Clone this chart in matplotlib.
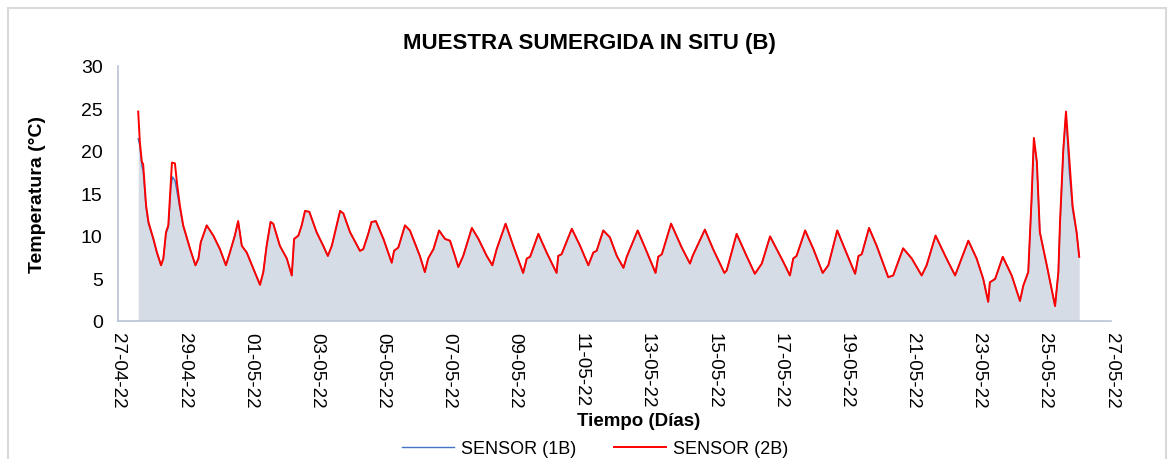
import pandas as pd
import matplotlib.pyplot as plt
import matplotlib.dates as mdates
from matplotlib.patches import Rectangle

plt.rcParams['font.family'] = ['Liberation Sans', 'DejaVu Sans']

# Lecturas (dias desde 27-04-22 00:00, temperatura en °C)
start = pd.Timestamp('2022-04-27')

dias_2b = [0.61, 0.66, 0.72, 0.76, 0.85, 0.92, 1.07, 1.17, 1.30, 1.37, 1.45, 1.52, 1.60, 1.63, 1.72,
           1.79, 1.87, 1.97, 2.18, 2.34, 2.43, 2.50, 2.68, 2.88, 3.08, 3.26, 3.38, 3.53, 3.63, 3.74,
           3.89, 4.09, 4.29, 4.39, 4.49, 4.61, 4.69, 4.89, 5.10, 5.25, 5.32, 5.45, 5.55, 5.65, 5.78,
           6.00, 6.20, 6.34, 6.46, 6.71, 6.81, 7.01, 7.31, 7.41, 7.56, 7.66, 7.79, 8.02, 8.27, 8.34,
           8.47, 8.67, 8.82, 9.12, 9.27, 9.37, 9.53, 9.70, 9.88, 10.03, 10.18, 10.28, 10.43, 10.69, 10.89,
           11.14, 11.31, 11.44, 11.71, 11.94, 12.24, 12.35, 12.45, 12.70, 12.95, 13.25, 13.30, 13.40, 13.71, 13.96,
           14.21, 14.36, 14.46, 14.66, 14.86, 15.07, 15.27, 15.37, 15.70, 15.92, 16.24, 16.32, 16.43, 16.71, 17.03,
           17.28, 17.36, 17.73, 17.98, 18.32, 18.39, 18.69, 18.99, 19.24, 19.45, 19.70, 19.90, 20.10, 20.30, 20.40,
           20.50, 20.76, 21.01, 21.29, 21.46, 21.73, 21.96, 22.27, 22.37, 22.47, 22.69, 22.92, 23.27, 23.42, 23.72,
           23.98, 24.28, 24.43, 24.70, 25.03, 25.29, 25.69, 25.94, 26.14, 26.29, 26.34, 26.50, 26.73, 27.00, 27.25,
           27.35, 27.50, 27.60, 27.67, 27.76, 27.85, 28.06, 28.31, 28.41, 28.46, 28.56, 28.64, 28.74, 28.84, 28.96,
           29.04]
temp_2b = [24.6, 21.0, 18.7, 18.4, 13.5, 11.6, 9.6, 8.1, 6.5, 7.3, 10.4, 11.2, 16.7, 18.6, 18.5,
           15.9, 13.5, 11.2, 8.4, 6.5, 7.3, 9.2, 11.2, 10.0, 8.4, 6.5, 8.0, 10.0, 11.7, 8.8,
           8.0, 6.1, 4.2, 5.7, 8.8, 11.6, 11.4, 8.8, 7.3, 5.3, 9.6, 10.0, 11.2, 12.9, 12.8,
           10.4, 8.8, 7.6, 8.8, 12.9, 12.6, 10.4, 8.2, 8.4, 10.2, 11.6, 11.7, 9.6, 6.8, 8.2,
           8.6, 11.2, 10.6, 7.6, 5.7, 7.3, 8.4, 10.6, 9.6, 9.4, 7.6, 6.3, 7.6, 10.9, 9.6,
           7.6, 6.5, 8.4, 11.4, 8.8, 5.6, 7.3, 7.5, 10.2, 8.0, 5.6, 7.6, 7.8, 10.8, 8.8,
           6.5, 8.0, 8.2, 10.6, 9.8, 7.6, 6.2, 7.5, 10.6, 8.6, 5.6, 7.5, 7.8, 11.4, 8.6,
           6.7, 7.6, 10.7, 8.4, 5.6, 5.9, 10.2, 7.6, 5.5, 6.7, 9.9, 8.4, 6.9, 5.3, 7.3,
           7.6, 10.6, 8.4, 5.6, 6.5, 10.6, 8.4, 5.5, 7.6, 7.8, 10.9, 8.8, 5.1, 5.3, 8.5,
           7.3, 5.3, 6.5, 10.0, 7.3, 5.3, 9.4, 7.3, 4.9, 2.2, 4.5, 4.9, 7.5, 5.3, 2.3,
           4.1, 5.7, 14.3, 21.5, 18.7, 10.4, 6.5, 1.7, 5.7, 11.6, 20.2, 24.6, 19.0, 13.5, 10.4,
           7.5]

dias_1b = [0.61, 0.66, 0.72, 0.76, 0.85, 0.92, 1.07, 1.17, 1.30, 1.37, 1.45, 1.52, 1.60, 1.65, 1.72,
           1.79, 1.87, 1.97, 2.18, 2.34, 2.43, 2.50, 2.68, 2.88, 3.08, 3.26, 3.38, 3.53, 3.63, 3.74,
           3.89, 4.09, 4.29, 4.39, 4.49, 4.61, 4.69, 4.89, 5.10, 5.25, 5.32, 5.45, 5.55, 5.65, 5.78,
           6.00, 6.20, 6.34, 6.46, 6.71, 6.81, 7.01, 7.31, 7.41, 7.56, 7.66, 7.79, 8.02, 8.27, 8.34,
           8.47, 8.67, 8.82, 9.12, 9.27, 9.37, 9.53, 9.70, 9.88, 10.03, 10.18, 10.28, 10.43, 10.69, 10.89,
           11.14, 11.31, 11.44, 11.71, 11.94, 12.24, 12.35, 12.45, 12.70, 12.95, 13.25, 13.30, 13.40, 13.71, 13.96,
           14.21, 14.36, 14.46, 14.66, 14.86, 15.07, 15.27, 15.37, 15.70, 15.92, 16.24, 16.32, 16.43, 16.71, 17.03,
           17.28, 17.36, 17.73, 17.98, 18.32, 18.39, 18.69, 18.99, 19.24, 19.45, 19.70, 19.90, 20.10, 20.30, 20.40,
           20.50, 20.76, 21.01, 21.29, 21.46, 21.73, 21.96, 22.27, 22.37, 22.47, 22.69, 22.92, 23.27, 23.42, 23.72,
           23.98, 24.28, 24.43, 24.70, 25.03, 25.29, 25.69, 25.94, 26.14, 26.29, 26.34, 26.50, 26.73, 27.00, 27.25,
           27.35, 27.50, 27.60, 27.67, 27.76, 27.85, 28.06, 28.31, 28.41, 28.46, 28.56, 28.64, 28.74, 28.84, 28.96,
           29.04]
temp_1b = [21.4, 20.6, 18.2, 17.6, 13.2, 11.4, 9.5, 8.0, 6.5, 7.3, 10.2, 11.0, 15.8, 16.9, 16.5,
           15.0, 13.2, 11.1, 8.4, 6.5, 7.3, 9.2, 11.2, 10.0, 8.4, 6.5, 8.0, 10.0, 11.7, 8.8,
           8.0, 6.1, 4.2, 5.7, 8.8, 11.6, 11.4, 8.8, 7.3, 5.3, 9.6, 10.0, 11.2, 12.9, 12.8,
           10.4, 8.8, 7.6, 8.8, 12.9, 12.6, 10.4, 8.2, 8.4, 10.2, 11.6, 11.7, 9.6, 6.8, 8.2,
           8.6, 11.2, 10.6, 7.6, 5.7, 7.3, 8.4, 10.6, 9.6, 9.4, 7.6, 6.3, 7.6, 10.9, 9.6,
           7.6, 6.5, 8.4, 11.4, 8.8, 5.6, 7.3, 7.5, 10.2, 8.0, 5.6, 7.6, 7.8, 10.8, 8.8,
           6.5, 8.0, 8.2, 10.6, 9.8, 7.6, 6.2, 7.5, 10.6, 8.6, 5.6, 7.5, 7.8, 11.4, 8.6,
           6.7, 7.6, 10.7, 8.4, 5.6, 5.9, 10.2, 7.6, 5.5, 6.7, 9.9, 8.4, 6.9, 5.3, 7.3,
           7.6, 10.6, 8.4, 5.6, 6.5, 10.6, 8.4, 5.5, 7.6, 7.8, 10.9, 8.8, 5.1, 5.3, 8.5,
           7.3, 5.3, 6.5, 10.0, 7.3, 5.3, 9.4, 7.3, 4.9, 2.2, 4.5, 4.9, 7.5, 5.3, 2.3,
           4.1, 5.7, 14.0, 21.2, 18.5, 10.4, 6.5, 1.7, 5.7, 11.4, 20.0, 24.4, 17.5, 13.0, 10.4,
           7.5]

t_1b = start + pd.to_timedelta(dias_1b, unit='D')
t_2b = start + pd.to_timedelta(dias_2b, unit='D')

fig = plt.figure(figsize=(11.76, 4.6), dpi=100)
fig.patches.append(Rectangle((8 / 1176, -0.05), 1158 / 1176, 1 - 9 / 460 + 0.05,
                             transform=fig.transFigure, fill=False,
                             edgecolor='#D9D9D9', linewidth=1.5))

ax = fig.add_axes([118 / 1176, 1 - 321.5 / 460, 993 / 1176, 254.8 / 460])

ax.fill_between(t_1b, temp_1b, 0, color='#D6DCE5', linewidth=0)
ax.plot(t_1b, temp_1b, color='#4472C4', linewidth=1.0, label='SENSOR (1B)')
ax.plot(t_2b, temp_2b, color='#FF0000', linewidth=1.4, label='SENSOR (2B)')

ax.set_xlim(pd.Timestamp('2022-04-27'), pd.Timestamp('2022-05-27'))
ax.set_ylim(0, 30)
ax.set_yticks(range(0, 31, 5))
ax.set_xticks(pd.date_range('2022-04-27', '2022-05-27', freq='2D'))
ax.xaxis.set_major_formatter(mdates.DateFormatter('%d-%m-%y'))
ax.tick_params(axis='x', length=0, pad=8, labelsize=13.5, labelrotation=-90)
ax.tick_params(axis='y', length=0, pad=11, labelsize=14)
for lbl in ax.get_xticklabels():
    lbl.set_va('top')
    lbl.set_ha('center')

for s in ['top', 'right']:
    ax.spines[s].set_visible(False)
for s in ['left', 'bottom']:
    ax.spines[s].set_color('#B8C4D6')
    ax.spines[s].set_linewidth(1.2)

ax.set_title('MUESTRA SUMERGIDA IN SITU (B)', fontsize=16, fontweight='bold',
             x=0.475, y=(321.5 - 44) / 254.8, va='center', pad=0)

ax.set_ylabel('Temperatura (°C)', fontsize=14, fontweight='bold')
ax.yaxis.set_label_coords((46 - 118) / 993, 0.5)
ax.set_xlabel('Tiempo (Días)', fontsize=13.5, fontweight='bold')
ax.xaxis.set_label_coords((639 - 118) / 993, (321.5 - 413) / 254.8)

fig.legend(loc='center', bbox_to_anchor=(595 / 1176, 1 - 450 / 460), ncol=2, frameon=False,
           fontsize=13, handlelength=2.9, handletextpad=0.35, columnspacing=2.1)

fig.savefig('out.png', dpi=100)
